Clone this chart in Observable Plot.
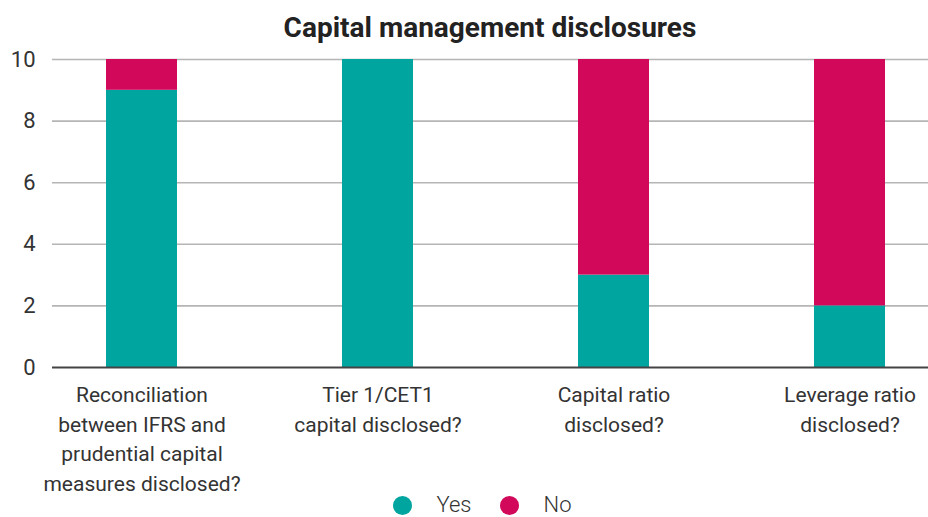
<!DOCTYPE html>
<html>
<head>
<meta charset="utf-8">
<script src="https://cdn.jsdelivr.net/npm/d3@7"></script>
<script src="https://cdn.jsdelivr.net/npm/@observablehq/plot@0.6"></script>
<style>
  html, body { margin: 0; padding: 0; background: #fff; overflow: hidden; }
  body { width: 928px; height: 517px; font-family: Roboto, "Liberation Sans", Arial, sans-serif; }
  #title { height: 44px; padding-top: 6px; padding-left: 52px; line-height: 44px; text-align: center; font-size: 28px; font-weight: bold; color: #222; }
  #chart svg { display: block; max-width: none !important; }
  #legend { display: flex; justify-content: center; align-items: center; height: 22px; line-height: 22px; padding-left: 36px; font-size: 22px; color: #333; font-weight: 300; }
  .item { display: flex; align-items: center; margin: 0 14px; }
  .sw { width: 19px; height: 19px; border-radius: 50%; display: inline-block; margin-right: 25px; }
</style>
</head>
<body>
<div id="title">Capital management disclosures</div>
<div id="chart"></div>
<div id="legend"></div>
<script>
const categories = [
  "Reconciliation between IFRS and prudential capital measures disclosed?",
  "Tier 1/CET1 capital disclosed?",
  "Capital ratio disclosed?",
  "Leverage ratio disclosed?"
];
const tickLabels = [
  "Reconciliation\nbetween IFRS and\nprudential capital\nmeasures disclosed?",
  "Tier 1/CET1\ncapital disclosed?",
  "Capital ratio\ndisclosed?",
  "Leverage ratio\ndisclosed?"
];
const series = ["Yes", "No"];
const yesValues = [9, 10, 3, 2];
const noValues = [1, 0, 7, 8];
const colors = ["#00A5A0", "#D2085A"];
const yTicks = [0, 2, 4, 6, 8, 10];

const data = [];
categories.forEach((c, i) => {
  data.push({category: c, series: "Yes", value: yesValues[i]});
  data.push({category: c, series: "No", value: noValues[i]});
});
const labelOf = new Map(categories.map((c, i) => [c, tickLabels[i]]));

const chart = Plot.plot({
  width: 928,
  height: 444,
  marginTop: 9,
  marginBottom: 127,
  marginLeft: 52,
  marginRight: 0,
  style: {fontFamily: 'Roboto, "Liberation Sans", Arial, sans-serif', fontSize: "21px", color: "#333", background: "#fff", overflow: "visible"},
  x: {domain: categories, range: [23, 967], paddingInner: 0.7, paddingOuter: 0.35, label: null},
  y: {domain: [0, 10], label: null},
  color: {domain: series, range: colors},
  marks: [
    Plot.ruleY(yTicks.filter(d => d > 0), {stroke: "#b5b5b5", strokeWidth: 1.6}),
    Plot.barY(data, {x: "category", y: "value", fill: "series", order: series}),
    Plot.ruleY([0], {stroke: "#444", strokeWidth: 2}),
    Plot.axisY({ticks: yTicks, tickSize: 0, tickPadding: 17, label: null, fontSize: 22, fill: "#333"}),
    Plot.axisX({tickSize: 0, tickPadding: 14, label: null, tickFormat: d => labelOf.get(d), lineHeight: 1.4, fontSize: 21, fill: "#333", textAnchor: "middle"})
  ]
});
document.getElementById("chart").appendChild(chart);

const legend = document.getElementById("legend");
series.forEach((s, i) => {
  const item = document.createElement("div");
  item.className = "item";
  item.innerHTML = `<span class="sw" style="background:${colors[i]}"></span><span>${s}</span>`;
  legend.appendChild(item);
});
</script>
</body>
</html>
